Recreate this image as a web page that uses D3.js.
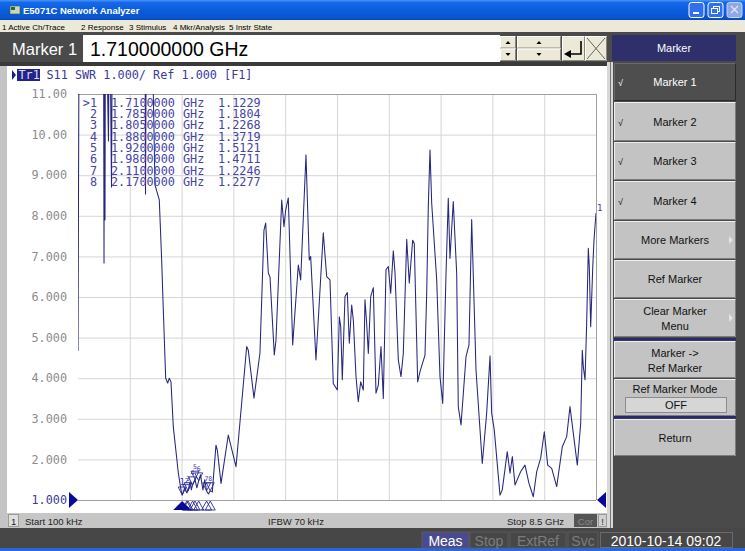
<!DOCTYPE html>
<html><head><meta charset="utf-8">
<script src="https://cdn.jsdelivr.net/npm/d3@7"></script>
<style>
html,body{margin:0;padding:0;background:#4a4a4a;overflow:hidden;}
svg{display:block;}
</style></head><body>
<svg id="c" width="745" height="551"></svg>
<script>
// ---------------- data ----------------
const freqGHz = [0.0001,0.02,0.418,0.427,0.435,0.443,0.451,0.50,0.517,0.55,0.566,1.099,1.108,1.124,1.20,1.263,1.334,1.373,1.40,1.439,1.472,1.498,1.526,1.564,1.646,1.69,
1.71,1.75,1.785,1.805,1.84,1.86,1.88,1.92,1.95,1.98,2.01,2.05,2.08,2.11,2.14,2.17,2.204,
2.264,2.286,2.347,2.466,2.593,2.768,2.794,2.888,2.986,3.052,3.08,3.123,3.151,3.221,3.249,3.343,3.38,3.408,3.451,3.523,3.615,3.654,3.741,3.795,3.818,3.905,4.025,4.081,4.135,4.189,4.255,4.288,4.311,4.337,4.381,4.419,4.452,4.491,4.518,4.562,4.599,4.639,4.682,4.709,4.737,4.764,4.803,4.846,4.890,4.928,4.972,5.01,5.054,5.092,5.131,5.174,5.202,5.256,5.30,5.338,5.394,5.436,5.492,5.518,5.574,5.612,5.694,5.722,5.748,5.776,5.804,5.886,5.94,5.985,6.039,6.076,6.104,6.158,6.214,6.24,6.285,6.367,6.416,6.46,6.531,6.634,6.706,6.761,6.788,6.831,6.925,6.962,7.044,7.089,7.127,7.171,7.264,7.335,7.40,7.471,7.527,7.592,7.652,7.707,7.773,7.855,7.947,8.019,8.073,8.128,8.193,8.249,8.275,8.292,8.32,8.347,8.374,8.39,8.413,8.446,8.467,8.5];
const swrValues = [4.67,14,14,6.84,14,7.90,14,9.84,14,8.71,14,14,8.54,14,14,8.76,8.39,6.91,5.68,4.00,3.88,4.00,3.91,2.80,1.67,1.25,
1.12,1.30,1.18,1.23,1.45,1.25,1.37,1.51,1.30,1.47,1.62,1.25,1.50,1.22,1.15,1.23,1.20,
2.35,2.23,1.41,2.60,1.82,4.78,4.69,3.51,4.62,7.65,7.82,6.59,6.49,4.57,4.94,8.39,7.73,8.14,8.44,4.82,6.79,6.42,9.50,6.91,7.0,4.45,7.58,6.50,6.42,3.87,3.71,5.51,5.27,3.96,6.01,6.11,4.86,5.80,5.43,4.04,3.42,3.91,3.71,5.93,5.35,4.61,6.01,6.23,3.63,3.83,4.78,3.50,6.67,6.75,6.09,7.14,6.59,4.45,4.04,4.61,7.42,6.34,7.40,7.32,3.91,4.16,4.57,6.09,8.22,9.62,8.31,6.42,4.04,3.38,6.58,8.43,6.95,8.35,6.58,3.30,2.85,4.53,4.82,7.91,4.20,1.90,3.14,4.55,3.14,2.72,1.12,1.25,2.19,1.66,2.07,1.37,1.70,1.86,1.41,1.08,1.70,2.03,2.68,1.86,1.78,1.33,2.31,2.56,3.30,2.64,1.86,2.89,4.69,4.28,3.96,5.35,7.20,6.75,5.27,6.71,7.40,8.07];

const markerNums = [1,2,3,4,5,6,7,8];
const markerFreqGHz = [1.71,1.785,1.805,1.88,1.92,1.98,2.11,2.17];
const markerSWR = [1.1229,1.1804,1.2268,1.3719,1.5121,1.4711,1.2246,1.2277];

const yTickValues = [11,10,9,8,7,6,5,4,3,2,1];
const yTickLabels = ["11.00","10.00","9.000","8.000","7.000","6.000","5.000","4.000","3.000","2.000","1.000"];
const startGHz = 0.0001, stopGHz = 8.5, xDivisions = 10;

const titleText = "E5071C Network Analyzer";
const menuItems = ["1 Active Ch/Trace","2 Response","3 Stimulus","4 Mkr/Analysis","5 Instr State"];
const entryLabel = "Marker 1";
const entryValue = "1.710000000 GHz";
const traceHeader = "S11 SWR 1.000/ Ref 1.000 [F1]";
const statusTexts = ["Start 100 kHz","IFBW 70 kHz","Stop 8.5 GHz"];
const softkeyTitle = "Marker";
const softkeyLabels = [["Marker 1"],["Marker 2"],["Marker 3"],["Marker 4"],["More Markers"],["Ref Marker"],["Clear Marker","Menu"],["Marker ->","Ref Marker"],["Ref Marker Mode"],["Return"]];
const softkeyChecked = [true,true,true,true,false,false,false,false,false,false];
const softkeySub = [false,false,false,false,true,false,true,false,false,false];
const refModeValue = "OFF";
const bottomItems = ["Meas","Stop","ExtRef","Svc"];
const dateText = "2010-10-14 09:02";

// ---------------- drawing ----------------
const svg = d3.select("#c");
const UI = "'Liberation Sans', Arial, sans-serif";
const MONO = "'DejaVu Sans Mono', monospace";
const defs = svg.append("defs");

svg.append("rect").attr("width",745).attr("height",551).attr("fill","#4a4a4a");

// title bar
const tg = defs.append("linearGradient").attr("id","tb").attr("x1",0).attr("y1",0).attr("x2",0).attr("y2",1);
[[0,"#4a96f8"],[0.12,"#1669ea"],[0.5,"#0a5ddc"],[0.9,"#0a54d0"],[1,"#0946b4"]].forEach(s=>tg.append("stop").attr("offset",s[0]).attr("stop-color",s[1]));
svg.append("rect").attr("x",0).attr("y",0).attr("width",745).attr("height",20).attr("fill","url(#tb)");
svg.append("rect").attr("x",10).attr("y",6).attr("width",10).attr("height",8).attr("fill","#c8d8c0").attr("stroke","#406040").attr("stroke-width",0.6);
svg.append("rect").attr("x",11).attr("y",7).attr("width",4).attr("height",3).attr("fill","#2a6a2a");
svg.append("text").attr("x",23).attr("y",14).attr("fill","#fff").attr("font-family",UI).attr("font-weight","bold").attr("font-size",9.5).text(titleText);
// window buttons
[[689,"#2f6ff0",true],[708,"#2f6ff0",true],[727,"#8ea8e8",false]].forEach((b,i)=>{
  svg.append("rect").attr("x",b[0]).attr("y",2.5).attr("width",15).attr("height",15).attr("rx",2.5)
    .attr("fill",b[1]).attr("stroke", b[2]?"#fff":"#c8d4f0").attr("stroke-width",1);
});
svg.append("rect").attr("x",693).attr("y",12).attr("width",6).attr("height",2).attr("fill","#fff");
svg.append("rect").attr("x",713.5).attr("y",6.5).attr("width",6).attr("height",5).attr("fill","none").attr("stroke","#fff").attr("stroke-width",1);
svg.append("rect").attr("x",711.5).attr("y",8.5).attr("width",6).attr("height",5).attr("fill","#2f6ff0").attr("stroke","#fff").attr("stroke-width",1);
svg.append("path").attr("d","M731,6 L738,13 M738,6 L731,13").attr("stroke","#dfe6f6").attr("stroke-width",1.3);

// menu bar
svg.append("rect").attr("x",0).attr("y",20).attr("width",745).attr("height",12).attr("fill","#ece9d8");
const menuX = [2,81,129,173,229];
menuItems.forEach((m,i)=>svg.append("text").attr("x",menuX[i]).attr("y",29.5).attr("font-family",UI).attr("font-size",8).attr("fill","#000").text(m));

// entry bar
svg.append("rect").attr("x",0).attr("y",35).attr("width",83).attr("height",27).attr("fill","#4a4a4a");
svg.append("text").attr("x",12).attr("y",55).attr("font-family",UI).attr("font-size",16.5).attr("fill","#fff").text(entryLabel);
svg.append("rect").attr("x",83).attr("y",35).attr("width",417).attr("height",27).attr("fill","#fff");
svg.append("text").attr("x",90).attr("y",56).attr("font-family",UI).attr("font-size",19.5).attr("fill","#000").text(entryValue);
// spinners
function bevel(x,y,w,h,fill){
  svg.append("rect").attr("x",x).attr("y",y).attr("width",w).attr("height",h).attr("fill",fill);
  svg.append("path").attr("d",`M${x+0.5},${y+h-0.5} L${x+0.5},${y+0.5} L${x+w-0.5},${y+0.5}`).attr("stroke","#fff").attr("fill","none");
  svg.append("path").attr("d",`M${x+0.5},${y+h-0.5} L${x+w-0.5},${y+h-0.5} L${x+w-0.5},${y+0.5}`).attr("stroke","#8a887e").attr("fill","none");
}
[[500,16],[517,44]].forEach(s=>{
  bevel(s[0],36,s[1],12.5,"#ece9d8");
  bevel(s[0],48.5,s[1],12.5,"#ece9d8");
  const cx = s[0]+s[1]/2;
  svg.append("path").attr("d",`M${cx-2.5},${44} L${cx+2.5},${44} L${cx},${41} Z`).attr("fill","#000");
  svg.append("path").attr("d",`M${cx-2.5},${53} L${cx+2.5},${53} L${cx},${56} Z`).attr("fill","#000");
});
bevel(562,36,23,25,"#ece9d8");
svg.append("path").attr("d","M581,41 L581,54 L570,54").attr("stroke","#000").attr("stroke-width",1.6).attr("fill","none");
svg.append("path").attr("d","M564,54 L571,50 L571,58 Z").attr("fill","#000");
bevel(585,36,22,25,"#ece9d8");
svg.append("path").attr("d","M587,38 L605,59 M605,38 L587,59").attr("stroke","#444").attr("stroke-width",0.8);

// softkey title
svg.append("rect").attr("x",612).attr("y",35).attr("width",124).attr("height",26).attr("fill","#2f2f6c");
svg.append("text").attr("x",674).attr("y",52).attr("text-anchor","middle").attr("font-family",UI).attr("font-size",11).attr("fill","#fff").text(softkeyTitle);

// dark separator under entry bar
svg.append("rect").attr("x",0).attr("y",62).attr("width",608).attr("height",4).attr("fill","#3a3a3a");

// chart panel
svg.append("rect").attr("x",0).attr("y",66).attr("width",608).attr("height",462).attr("fill","#c4c4c4");
svg.append("rect").attr("x",7).attr("y",66).attr("width",600).attr("height",447).attr("fill","#fff");

// scales
const x = d3.scaleLinear().domain([startGHz, stopGHz]).range([78, 596]);
const y = d3.scaleLinear().domain([1, 11]).range([500, 94]);
const xGridValues = d3.range(xDivisions+1).map(i=>startGHz + i*(stopGHz-startGHz)/xDivisions);

// grid
const gridColor = "#d6d6d6";
const gx = svg.append("g").attr("transform","translate(0,500)")
  .call(d3.axisBottom(x).tickValues(xGridValues).tickSize(-406).tickFormat(""));
gx.select(".domain").remove();
gx.selectAll("line").attr("stroke",(d,i)=> (i===0? "none" : (i===xDivisions? "#a0a0a0": gridColor))).attr("stroke-width",1);
const gy = svg.append("g").attr("transform","translate(78,0)")
  .call(d3.axisLeft(y).tickValues(yTickValues).tickSize(-518).tickFormat(""));
gy.select(".domain").remove();
gy.selectAll("line").attr("stroke",d=> (d===11||d===1)? "#a0a0a0" : gridColor).attr("stroke-width",1);

// y labels
const ly = svg.append("g").attr("transform","translate(78,0)")
  .call(d3.axisLeft(y).tickValues(yTickValues).tickSize(0).tickPadding(11).tickFormat((d,i)=>yTickLabels[i]));
ly.select(".domain").remove();
ly.selectAll("text").attr("font-family",MONO).attr("font-size",11.8).attr("fill",d=> d===1? "#3a3a9c":"#8c8c8c");

// reference triangles
svg.append("path").attr("d",`M69,${y(1)-8} L78,${y(1)} L69,${y(1)+8} Z`).attr("fill","#0a0a9a");
svg.append("path").attr("d",`M606,${y(1)-8} L597,${y(1)} L606,${y(1)+8} Z`).attr("fill","#0a0a9a");

// header
svg.append("path").attr("d","M12,70 L16,75 L12,80 Z").attr("fill","#1a1a8a");
svg.append("rect").attr("x",17).attr("y",69).attr("width",23).attr("height",12).attr("fill","#23238a");
svg.append("text").attr("x",18.5).attr("y",79).attr("font-family",MONO).attr("font-size",11.8).attr("fill","#d8d8f0").text("Tr1");
svg.append("text").attr("x",46.5).attr("y",79).attr("font-family",MONO).attr("font-size",11.8).attr("fill","#3a3a9c").text(traceHeader);

// trace
defs.append("clipPath").attr("id","plotclip").append("rect").attr("x",78).attr("y",94).attr("width",518).attr("height",412);
const traceData = freqGHz.map((f,i)=>[f, swrValues[i]]);
svg.append("path").attr("clip-path","url(#plotclip)")
  .attr("d", d3.line().x(d=>x(d[0])).y(d=>y(d[1]))(traceData))
  .attr("fill","none").attr("stroke","#26267e").attr("stroke-width",1.05).attr("stroke-linejoin","round");

// marker table
const tableG = svg.append("g").attr("font-family",MONO).attr("font-size",11.8).attr("fill","#4545a6");
markerNums.forEach((n,i)=>{
  const cy = 106.5 + i*11.35;
  tableG.append("text").attr("x",97).attr("y",cy).attr("text-anchor","end").text((i===0?">":"")+n);
  tableG.append("text").attr("x",111).attr("y",cy).text(d3.format(".7f")(markerFreqGHz[i]));
  tableG.append("text").attr("x",183).attr("y",cy).text("GHz");
  tableG.append("text").attr("x",218).attr("y",cy).text(d3.format(".4f")(markerSWR[i]));
});

// markers on trace
const mk = svg.append("g");
markerNums.forEach((n,i)=>{
  const mx = x(markerFreqGHz[i]), my = y(markerSWR[i]);
  mk.append("path").attr("d",`M${mx-4},${my-8} L${mx+4},${my-8} L${mx},${my} Z`).attr("fill","none").attr("stroke","#2a2a9a").attr("stroke-width",0.9);
  mk.append("text").attr("x",mx).attr("y",my-10).attr("text-anchor","middle").attr("font-family",MONO).attr("font-size",i===0?9:6.5).attr("fill","#3a3aa0").text(n);
  if(i>0){
    mk.append("path").attr("d",`M${mx-5},510 L${mx+5},510 L${mx},501 Z`).attr("fill","none").attr("stroke","#2a2a9a").attr("stroke-width",0.9);
  }
});
{
  const mx = x(markerFreqGHz[0]);
  mk.append("path").attr("d",`M${mx-9},510 L${mx+9},510 L${mx},501 Z`).attr("fill","#0a0a9a");
}
// right edge label
svg.append("text").attr("x",597).attr("y",211).attr("font-family",MONO).attr("font-size",9).attr("fill","#3a3aa0").text("1");

// status strip
svg.append("rect").attr("x",7).attr("y",513).attr("width",600).attr("height",15).attr("fill","#c6c6c6");
svg.append("rect").attr("x",8.5).attr("y",514.5).attr("width",10).attr("height",12).attr("fill","#dedede").attr("stroke","#9a9a9a");
svg.append("text").attr("x",11).attr("y",524.5).attr("font-family",UI).attr("font-size",9.5).attr("fill","#222").text("1");
const stX = [25,268,507];
statusTexts.forEach((t,i)=>svg.append("text").attr("x",stX[i]).attr("y",524.5).attr("font-family",UI).attr("font-size",9.5).attr("fill","#222").text(t));
svg.append("rect").attr("x",574).attr("y",514).attr("width",23).attr("height",13).attr("fill","#555");
svg.append("text").attr("x",585.5).attr("y",524.5).attr("text-anchor","middle").attr("font-family",UI).attr("font-size",9.5).attr("fill","#8a8a8a").text("Cor");
svg.append("rect").attr("x",598.5).attr("y",514.5).attr("width",8).attr("height",12).attr("fill","#d0d0d0").attr("stroke","#999");
svg.append("text").attr("x",602.5).attr("y",524.5).attr("text-anchor","middle").attr("font-family",UI).attr("font-size",9.5).attr("fill","#333").text("!");

// softkey column
svg.append("rect").attr("x",607).attr("y",62).attr("width",6).attr("height",466).attr("fill","#d8d8d8");
svg.append("line").attr("x1",610.5).attr("x2",610.5).attr("y1",62).attr("y2",528).attr("stroke","#777");
const skTop = [63,102,142,181,221,260,299,341,379,419];
const skH = [38,39,38,39,38,38,38,37,37,37];
softkeyLabels.forEach((lines,i)=>{
  const bx=614, bw=122, by=skTop[i], bh=skH[i];
  const active = i===0;
  svg.append("rect").attr("x",bx).attr("y",by).attr("width",bw).attr("height",bh).attr("fill",active?"#4e4e4e":"#c3c3c3");
  svg.append("path").attr("d",`M${bx+0.5},${by+bh-0.5} L${bx+0.5},${by+0.5} L${bx+bw-0.5},${by+0.5}`).attr("stroke",active?"#6a6a6a":"#efefef").attr("fill","none");
  svg.append("path").attr("d",`M${bx+0.5},${by+bh-0.5} L${bx+bw-0.5},${by+bh-0.5} L${bx+bw-0.5},${by+0.5}`).attr("stroke",active?"#2a2a2a":"#7c7c7c").attr("fill","none");
  const col = active?"#fff":"#111";
  const cx = bx+bw/2;
  if(i===8){
    svg.append("text").attr("x",cx).attr("y",by+14).attr("text-anchor","middle").attr("font-family",UI).attr("font-size",11).attr("fill",col).text(lines[0]);
    svg.append("rect").attr("x",625.5).attr("y",by+18.5).attr("width",101).attr("height",15).attr("fill","#d6d6d6").attr("stroke","#8c8c8c");
    svg.append("text").attr("x",cx+1).attr("y",by+30).attr("text-anchor","middle").attr("font-family",UI).attr("font-size",11).attr("fill","#111").text(refModeValue);
  } else if(lines.length===2){
    svg.append("text").attr("x",cx).attr("y",by+16).attr("text-anchor","middle").attr("font-family",UI).attr("font-size",11).attr("fill",col).text(lines[0]);
    svg.append("text").attr("x",cx).attr("y",by+31).attr("text-anchor","middle").attr("font-family",UI).attr("font-size",11).attr("fill",col).text(lines[1]);
  } else {
    svg.append("text").attr("x",cx).attr("y",by+bh/2+4).attr("text-anchor","middle").attr("font-family",UI).attr("font-size",11).attr("fill",col).text(lines[0]);
  }
  if(softkeyChecked[i]) svg.append("text").attr("x",618).attr("y",by+bh/2+4).attr("font-family",UI).attr("font-size",9).attr("fill",col).text("√");
  if(softkeySub[i]) svg.append("path").attr("d",`M${729},${by+bh/2-4} L${733},${by+bh/2} L${729},${by+bh/2+4} Z`).attr("fill","#e4e4e4");
});
svg.append("rect").attr("x",614).attr("y",338).attr("width",122).attr("height",2.5).attr("fill","#2a2a6a");
svg.append("rect").attr("x",614).attr("y",416).attr("width",122).attr("height",2.5).attr("fill","#2a2a6a");

// bottom bar
svg.append("rect").attr("x",0).attr("y",528).attr("width",745).attr("height",20).attr("fill","#474747");
svg.append("rect").attr("x",0).attr("y",548).attr("width",745).attr("height",3).attr("fill","#2a66dc");
const bbX = [422,470,510,568], bbW = [47,38,56,30];
bottomItems.forEach((t,i)=>{
  svg.append("rect").attr("x",bbX[i]).attr("y",532).attr("width",bbW[i]).attr("height",16).attr("fill",i===0?"#4a4a8e":"#474747").attr("stroke","#5a5a5a");
  svg.append("text").attr("x",bbX[i]+bbW[i]/2).attr("y",546).attr("text-anchor","middle").attr("font-family",UI).attr("font-size",14).attr("fill",i===0?"#fff":"#7c7c7c").text(t);
});
svg.append("rect").attr("x",600.5).attr("y",532.5).attr("width",132).attr("height",15).attr("fill","#474747").attr("stroke","#6a6a6a");
svg.append("text").attr("x",666).attr("y",546).attr("text-anchor","middle").attr("font-family",UI).attr("font-size",14).attr("fill","#fff").text(dateText);
</script></body></html>
